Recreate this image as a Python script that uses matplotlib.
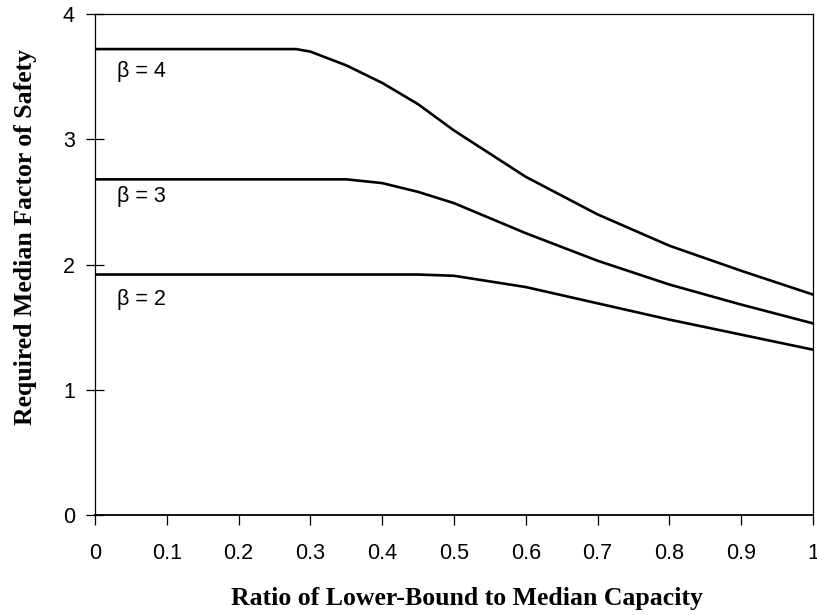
import numpy as np
import matplotlib.pyplot as plt

# Ratio of lower-bound to median capacity vs required median factor of safety
ratio_b4 = [0, 0.28, 0.30, 0.35, 0.40, 0.45, 0.50, 0.60, 0.70, 0.80, 0.90, 1.00]
fs_b4 = [3.72, 3.72, 3.70, 3.59, 3.45, 3.28, 3.07, 2.70, 2.40, 2.15, 1.95, 1.76]

ratio_b3 = [0, 0.35, 0.40, 0.45, 0.50, 0.60, 0.70, 0.80, 0.90, 1.00]
fs_b3 = [2.68, 2.68, 2.65, 2.58, 2.49, 2.25, 2.03, 1.84, 1.68, 1.53]

ratio_b2 = [0, 0.45, 0.50, 0.60, 0.70, 0.80, 0.90, 1.00]
fs_b2 = [1.92, 1.92, 1.91, 1.82, 1.69, 1.56, 1.44, 1.32]

beta_labels = ['\u03b2 = 4', '\u03b2 = 3', '\u03b2 = 2']
label_y = [3.54, 2.54, 1.72]

xticks = np.round(np.arange(0, 1.01, 0.1), 1)
xticklabels = ['0', '0.1', '0.2', '0.3', '0.4', '0.5', '0.6', '0.7', '0.8', '0.9', '1']
yticks = [0, 1, 2, 3, 4]

fig = plt.figure(figsize=(8.17, 6.15), dpi=100)
ax = fig.add_axes([0.1163, 0.1626, 0.8788, 0.8146])

for xs, ys in [(ratio_b4, fs_b4), (ratio_b3, fs_b3), (ratio_b2, fs_b2)]:
    ax.plot(xs, ys, color='black', lw=1.9, solid_joinstyle='round')

for lab, yl in zip(beta_labels, label_y):
    ax.text(0.03, yl, lab, fontsize=15.5, family='Liberation Sans',
            ha='left', va='center')

ax.set_xlim(0, 1)
ax.set_ylim(0, 4)
ax.set_xticks(xticks)
ax.set_xticklabels(xticklabels)
ax.set_yticks(yticks)
ax.tick_params(axis='x', direction='out', length=7, width=0.9, pad=13,
               labelsize=15.5, labelfontfamily='Liberation Sans')
ax.tick_params(axis='y', direction='inout', length=13, width=0.9, pad=8,
               labelsize=15.5, labelfontfamily='Liberation Sans')

for s in ax.spines.values():
    s.set_linewidth(0.9)
    s.set_color('black')
ax.spines['bottom'].set_linewidth(1.3)

ax.set_xlabel('Ratio of Lower-Bound to Median Capacity', family='Liberation Serif',
              fontweight='bold', fontsize=18.5, va='center')
ax.xaxis.set_label_coords(0.518, -0.166)
ax.set_ylabel('Required Median Factor of Safety', family='Liberation Serif',
              fontweight='bold', fontsize=18.5, va='center')
ax.yaxis.set_label_coords(-0.0975, 0.555)

fig.savefig('out.png', dpi=100)
